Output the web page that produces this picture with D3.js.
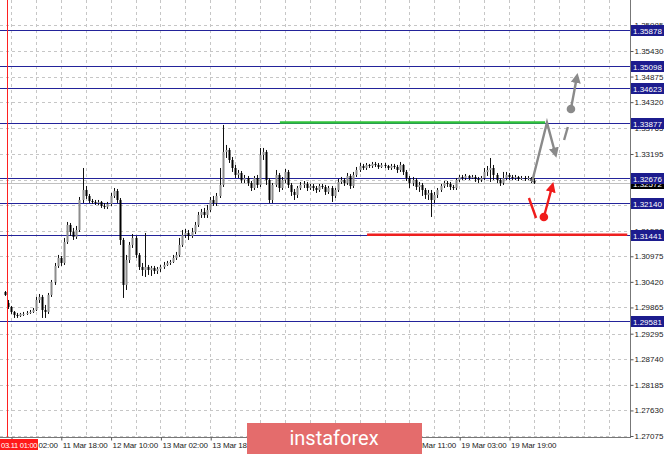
<!DOCTYPE html>
<html><head><meta charset="utf-8">
<script src="https://cdn.jsdelivr.net/npm/d3@7"></script>
<style>
body{margin:0;background:#fff}
svg{display:block}
text{font-family:"Liberation Sans",Arial,sans-serif}
</style>
</head><body>
<svg id="c" width="665" height="454"></svg>
<script>
// ---- data (GBP/USD H1) ----
const open = [
1.30200,1.29962,1.29876,1.29767,1.29702,1.29680,1.29724,1.29724,1.29745,1.29767,
1.29810,1.30027,1.30093,1.29810,1.29767,1.30136,1.30418,1.30765,1.30939,1.30830,
1.31286,1.31655,1.31503,1.31395,1.31546,1.32197,1.32414,1.32284,1.32175,1.32154,
1.32132,1.32154,1.32067,1.32046,1.32111,1.32284,1.32392,1.32197,1.31329,1.30353,
1.30895,1.31221,1.31373,1.31004,1.30743,1.30678,1.30743,1.30678,1.30722,1.30656,
1.30700,1.30743,1.30787,1.30830,1.30852,1.30939,1.31004,1.31221,1.31438,1.31481,
1.31416,1.31503,1.31655,1.31872,1.31937,1.31872,1.31980,1.32197,1.32132,1.32284,
1.32523,1.33239,1.33282,1.33065,1.32891,1.32740,1.32783,1.32631,1.32674,1.32566,
1.32457,1.32674,1.32523,1.33174,1.33239,1.32631,1.32197,1.32523,1.32740,1.32457,
1.32631,1.32805,1.32523,1.32371,1.32306,1.32457,1.32523,1.32544,1.32457,1.32501,
1.32457,1.32414,1.32501,1.32479,1.32371,1.32457,1.32284,1.32414,1.32588,1.32631,
1.32566,1.32718,1.32501,1.32740,1.32848,1.32935,1.32891,1.32957,1.32935,1.32979,
1.32957,1.32913,1.32957,1.32935,1.32891,1.32935,1.32913,1.32848,1.32957,1.32805,
1.32674,1.32566,1.32631,1.32479,1.32523,1.32414,1.32306,1.32349,1.32197,1.32306,
1.32414,1.32501,1.32566,1.32544,1.32479,1.32457,1.32631,1.32696,1.32674,1.32718,
1.32674,1.32696,1.32653,1.32631,1.32674,1.32805,1.32848,1.32891,1.32740,1.32631,
1.32566,1.32674,1.32740,1.32696,1.32674,1.32696,1.32653,1.32674,1.32653,1.32674,
1.32609];
const high = [
1.30222,1.30027,1.29897,1.29788,1.29745,1.29745,1.29767,1.29788,1.29810,1.29854,
1.30093,1.30157,1.30136,1.29919,1.30179,1.30461,1.30830,1.31004,1.30982,1.31373,
1.31720,1.31698,1.31590,1.31633,1.32262,1.32891,1.32501,1.32327,1.32219,1.32197,
1.32197,1.32175,1.32132,1.32154,1.32349,1.32457,1.32436,1.32240,1.31373,1.31004,
1.31286,1.31459,1.31416,1.31047,1.30830,1.31481,1.30787,1.30765,1.30765,1.30743,
1.30787,1.30852,1.30874,1.30895,1.31004,1.31069,1.31373,1.31546,1.31568,1.31546,
1.31590,1.31720,1.31937,1.32002,1.32024,1.32089,1.32262,1.32284,1.32349,1.32891,
1.33825,1.33391,1.33326,1.33130,1.32957,1.32848,1.32826,1.32740,1.32718,1.32609,
1.32718,1.32740,1.33326,1.33326,1.33282,1.32674,1.32566,1.32848,1.32783,1.32696,
1.32870,1.32848,1.32566,1.32436,1.32501,1.32588,1.32609,1.32588,1.32544,1.32544,
1.32501,1.32544,1.32544,1.32523,1.32501,1.32501,1.32457,1.32653,1.32696,1.32674,
1.32783,1.32761,1.32805,1.32913,1.33000,1.32979,1.33000,1.32979,1.33022,1.33022,
1.33000,1.33000,1.33000,1.32957,1.32979,1.32979,1.32957,1.33022,1.32979,1.32848,
1.32718,1.32696,1.32674,1.32588,1.32566,1.32457,1.32414,1.32414,1.32371,1.32457,
1.32544,1.32609,1.32609,1.32588,1.32523,1.32674,1.32740,1.32740,1.32761,1.32740,
1.32740,1.32740,1.32696,1.32718,1.32891,1.32935,1.33108,1.32957,1.32783,1.32674,
1.32805,1.32805,1.32783,1.32740,1.32740,1.32718,1.32718,1.32718,1.32718,1.32696,
1.32674];
const low = [
1.30114,1.29832,1.29724,1.29637,1.29637,1.29658,1.29680,1.29702,1.29724,1.29745,
1.29788,1.29962,1.29637,1.29637,1.29724,1.30093,1.30353,1.30722,1.30765,1.30787,
1.31242,1.31416,1.31329,1.31351,1.31503,1.32132,1.32219,1.32132,1.32111,1.32089,
1.32089,1.32024,1.32002,1.32002,1.32067,1.32240,1.32132,1.31221,1.30071,1.30244,
1.30830,1.31156,1.30939,1.30678,1.30548,1.30526,1.30570,1.30548,1.30591,1.30591,
1.30635,1.30700,1.30765,1.30787,1.30830,1.30895,1.30961,1.31177,1.31373,1.31329,
1.31373,1.31459,1.31611,1.31807,1.31807,1.31807,1.31937,1.32067,1.32067,1.32240,
1.32479,1.33108,1.33000,1.32805,1.32674,1.32674,1.32566,1.32566,1.32501,1.32392,
1.32414,1.32457,1.32479,1.33065,1.32523,1.32132,1.32132,1.32479,1.32371,1.32414,
1.32566,1.32457,1.32284,1.32197,1.32240,1.32414,1.32457,1.32392,1.32414,1.32392,
1.32349,1.32371,1.32436,1.32306,1.32327,1.32154,1.32240,1.32371,1.32544,1.32501,
1.32523,1.32436,1.32457,1.32696,1.32805,1.32848,1.32848,1.32891,1.32891,1.32913,
1.32870,1.32891,1.32891,1.32848,1.32848,1.32870,1.32783,1.32805,1.32740,1.32609,
1.32457,1.32501,1.32414,1.32371,1.32284,1.32219,1.32197,1.31828,1.32132,1.32240,
1.32371,1.32457,1.32479,1.32414,1.32414,1.32414,1.32588,1.32631,1.32631,1.32631,
1.32653,1.32588,1.32566,1.32588,1.32631,1.32718,1.32588,1.32631,1.32566,1.32501,
1.32523,1.32631,1.32631,1.32631,1.32631,1.32609,1.32631,1.32609,1.32631,1.32566,
1.32544];
const close = [
1.30136,1.29876,1.29767,1.29702,1.29680,1.29724,1.29724,1.29745,1.29767,1.29810,
1.30027,1.30093,1.29810,1.29767,1.30136,1.30418,1.30765,1.30939,1.30830,1.31286,
1.31655,1.31503,1.31395,1.31546,1.32197,1.32414,1.32284,1.32175,1.32154,1.32132,
1.32154,1.32067,1.32046,1.32111,1.32284,1.32392,1.32197,1.31329,1.30353,1.30895,
1.31221,1.31373,1.31004,1.30743,1.30678,1.30743,1.30678,1.30722,1.30656,1.30700,
1.30743,1.30787,1.30830,1.30852,1.30939,1.31004,1.31221,1.31438,1.31481,1.31416,
1.31503,1.31655,1.31872,1.31937,1.31872,1.31980,1.32197,1.32132,1.32284,1.32523,
1.33239,1.33282,1.33065,1.32891,1.32740,1.32783,1.32631,1.32674,1.32566,1.32457,
1.32674,1.32523,1.33174,1.33239,1.32631,1.32197,1.32523,1.32740,1.32457,1.32631,
1.32805,1.32523,1.32371,1.32306,1.32457,1.32523,1.32544,1.32457,1.32501,1.32457,
1.32414,1.32501,1.32479,1.32371,1.32457,1.32284,1.32414,1.32588,1.32631,1.32566,
1.32718,1.32501,1.32740,1.32848,1.32935,1.32891,1.32957,1.32935,1.32979,1.32957,
1.32913,1.32957,1.32935,1.32891,1.32935,1.32913,1.32848,1.32957,1.32805,1.32674,
1.32566,1.32631,1.32479,1.32523,1.32414,1.32306,1.32349,1.32197,1.32306,1.32414,
1.32501,1.32566,1.32544,1.32479,1.32457,1.32631,1.32696,1.32674,1.32718,1.32674,
1.32696,1.32653,1.32631,1.32674,1.32805,1.32848,1.32891,1.32740,1.32631,1.32566,
1.32674,1.32740,1.32696,1.32674,1.32696,1.32653,1.32674,1.32653,1.32674,1.32609,
1.32572];

const priceTicks = [1.35985,1.35430,1.34875,1.34320,1.33765,1.33195,1.32640,1.32085,1.31530,
  1.30975,1.30420,1.29865,1.29295,1.28740,1.28185,1.27630,1.27075];
const hiddenPriceLabels = [1.32640];           // fully covered by the level boxes
const timeTickIdx = [2,18,34,50,66,130,146,162];
const timeTickLabels = ["11 Mar 02:00","11 Mar 18:00","12 Mar 10:00","13 Mar 02:00","13 Mar 18:00",
  "18 Mar 11:00","19 Mar 03:00","19 Mar 19:00"];
const levels = [1.35878,1.35098,1.34623,1.33877,1.32676,1.32140,1.31441,1.29581];
const bidPrice = 1.32572;
const greenLevel = {price:1.33877, from:88.4, to:173.6};
const redLevel = {price:1.31441, from:116.4, to:200};
const markerIdx = 0.75, markerLabel = "03.11 01:00";
// forecast drawings in (bar index, price)
const grayPath = [[169.4,1.32588],[174.2,1.33877],[176.9,1.33200]];
const grayDash = [[179.7,1.33499],[180.9,1.33781]];
const grayUp = [[181.9,1.34172],[183.8,1.34866]];
const redDash = [[168.4,1.32240],[170.7,1.31806]];
const redUp = [[173.2,1.31828],[175.9,1.32500]];

// ---- layout ----
const W = 665, H = 454, plotR = 630, plotB = 437;
const svg = d3.select("#c");
const x = d3.scaleLinear().domain([0, 200]).range([4.78, 4.78 + 3.1125*200]);
const y = d3.scaleLinear().domain([1.27075, 1.35430]).range([436, 51]);
const fmt = d3.format(".5f");

svg.append("rect").attr("width", W).attr("height", H).attr("fill", "#fff");
const defs = svg.append("defs");
defs.append("clipPath").attr("id","clip")
  .append("rect").attr("x",0).attr("y",0).attr("width",plotR).attr("height",plotB);
function mk(id, color){
  defs.append("marker").attr("id", id).attr("viewBox","0 0 10 10").attr("refX",6).attr("refY",5)
    .attr("markerWidth",4.2).attr("markerHeight",4.2).attr("orient","auto")
    .append("path").attr("d","M0,0 L10,5 L0,10 Z").attr("fill", color);
}
mk("ag", "#8a8a8a"); mk("ar", "#f01c1c");

const plot = svg.append("g").attr("clip-path","url(#clip)");

// grid
const gridIdx = d3.range(2, 200, 8);
plot.selectAll(".hg").data(priceTicks).join("line")
  .attr("x1",0).attr("x2",plotR)
  .attr("y1", d=>Math.round(y(d))+0.5).attr("y2", d=>Math.round(y(d))+0.5)
  .attr("stroke","#c6c6c6").attr("stroke-dasharray","3,3");
plot.selectAll(".vg").data(gridIdx).join("line")
  .attr("x1", d=>Math.round(x(d))+0.5).attr("x2", d=>Math.round(x(d))+0.5)
  .attr("y1",0).attr("y2",plotB)
  .attr("stroke","#c6c6c6").attr("stroke-dasharray","3,3");

// bid line
plot.append("line").attr("x1",0).attr("x2",plotR)
  .attr("y1", Math.round(y(bidPrice))+0.5).attr("y2", Math.round(y(bidPrice))+0.5)
  .attr("stroke","#c0c0c0");

// level lines
plot.selectAll(".lv").data(levels).join("line")
  .attr("x1",0).attr("x2",plotR)
  .attr("y1", d=>Math.round(y(d))+0.5).attr("y2", d=>Math.round(y(d))+0.5)
  .attr("stroke","#23239a").attr("stroke-width",1);

plot.append("line").attr("x1", x(greenLevel.from)).attr("x2", x(greenLevel.to))
  .attr("y1", y(greenLevel.price)).attr("y2", y(greenLevel.price))
  .attr("stroke","#2fc23a").attr("stroke-width",2.6);
plot.append("line").attr("x1", x(redLevel.from)).attr("x2", x(redLevel.to))
  .attr("y1", y(redLevel.price)).attr("y2", y(redLevel.price))
  .attr("stroke","#ee2020").attr("stroke-width",2.6);

// candles
const idx = d3.range(close.length);
const cx = i => Math.round(x(i));
plot.selectAll(".wk").data(idx).join("line")
  .attr("x1", i=>cx(i)+0.5).attr("x2", i=>cx(i)+0.5)
  .attr("y1", i=>y(high[i])).attr("y2", i=>y(low[i]))
  .attr("stroke","#111").attr("stroke-width",1);
plot.selectAll(".bd").data(idx).join("rect")
  .attr("x", i=>cx(i)-0.5).attr("width", 2)
  .attr("y", i=>y(Math.max(open[i],close[i])))
  .attr("height", i=>Math.max(1, Math.abs(y(open[i])-y(close[i]))))
  .attr("fill", i=> close[i] >= open[i] ? "#8c8c8c" : "#000");

// vertical red marker
plot.append("line").attr("x1", Math.round(x(markerIdx))+0.5).attr("x2", Math.round(x(markerIdx))+0.5)
  .attr("y1",0).attr("y2",plotB).attr("stroke","#ff2020");

// forecast drawings
const ln = d3.line().x(d=>x(d[0])).y(d=>y(d[1]));
plot.append("path").attr("d", ln(grayPath)).attr("fill","none").attr("stroke","#8a8a8a")
  .attr("stroke-width",2.4).attr("stroke-linejoin","miter").attr("marker-end","url(#ag)");
plot.append("path").attr("d", ln(grayDash)).attr("fill","none").attr("stroke","#8a8a8a").attr("stroke-width",2.4);
plot.append("path").attr("d", ln(grayUp)).attr("fill","none").attr("stroke","#8a8a8a")
  .attr("stroke-width",2.4).attr("marker-end","url(#ag)");
plot.append("circle").attr("cx", x(grayUp[0][0])).attr("cy", y(grayUp[0][1])).attr("r",4.3).attr("fill","#8a8a8a");
plot.append("path").attr("d", ln(redDash)).attr("fill","none").attr("stroke","#f01c1c").attr("stroke-width",2.4);
plot.append("path").attr("d", ln(redUp)).attr("fill","none").attr("stroke","#f01c1c")
  .attr("stroke-width",2.4).attr("marker-end","url(#ar)");
plot.append("circle").attr("cx", x(redUp[0][0])).attr("cy", y(redUp[0][1])).attr("r",4.3).attr("fill","#f01c1c");

// axes frame
svg.append("line").attr("x1",plotR+0.5).attr("x2",plotR+0.5).attr("y1",0).attr("y2",plotB+1).attr("stroke","#777");
svg.append("line").attr("x1",0).attr("x2",plotR+1).attr("y1",plotB+0.5).attr("y2",plotB+0.5).attr("stroke","#777");

// right axis
const ya = d3.axisRight(y).tickValues(priceTicks)
  .tickFormat(d => hiddenPriceLabels.includes(d) ? "" : fmt(d)).tickSize(3).tickPadding(1);
const yg = svg.append("g").attr("transform",`translate(${plotR+0.5},0)`).call(ya);
yg.select(".domain").remove();
yg.selectAll("text").attr("font-size","8px").attr("fill","#222").style("font-family","'Liberation Sans',Arial,sans-serif");
yg.selectAll("line").attr("stroke","#555");

// bottom axis
const xa = d3.axisBottom(x).tickValues(timeTickIdx).tickFormat((d,i)=>timeTickLabels[i]).tickSize(3).tickPadding(2);
const xg = svg.append("g").attr("transform",`translate(0.5,${plotB+0.5})`).call(xa);
xg.select(".domain").remove();
xg.selectAll("text").attr("font-size","8px").attr("fill","#222").attr("text-anchor","start").attr("x",1)
  .attr("letter-spacing","-0.15px").style("font-family","'Liberation Sans',Arial,sans-serif");
xg.selectAll("line").attr("stroke","#555");

// price label boxes
function priceBox(p, bg){
  const yy = Math.round(y(p));
  svg.append("rect").attr("x",plotR+1).attr("y",yy-5).attr("width",33).attr("height",11).attr("fill",bg);
  svg.append("text").attr("x",plotR+3).attr("y",yy+3.5).attr("font-size","8px").attr("fill","#fff")
    .text(fmt(p));
}
priceBox(bidPrice, "#000");
levels.forEach(p => priceBox(p, "#1c1c8e"));

// marker time label
const mx = Math.round(x(markerIdx));
svg.append("rect").attr("x",0).attr("y",plotB+2).attr("width",mx+31).attr("height",11).attr("fill","#ff1a1a");
svg.append("text").attr("x",1).attr("y",plotB+10.5).attr("text-anchor","start").attr("font-size","7.6px")
  .attr("letter-spacing","-0.3px").attr("fill","#fff").text(markerLabel);

// watermark
svg.append("rect").attr("x",247).attr("y",423).attr("width",175).attr("height",31).attr("fill","#e46c6c");
svg.append("text").attr("x",334).attr("y",445).attr("text-anchor","middle").attr("font-size","20px")
  .attr("fill","#fff").style("font-family","Roboto, 'Open Sans', sans-serif").text("instaforex");
</script>
</body></html>
